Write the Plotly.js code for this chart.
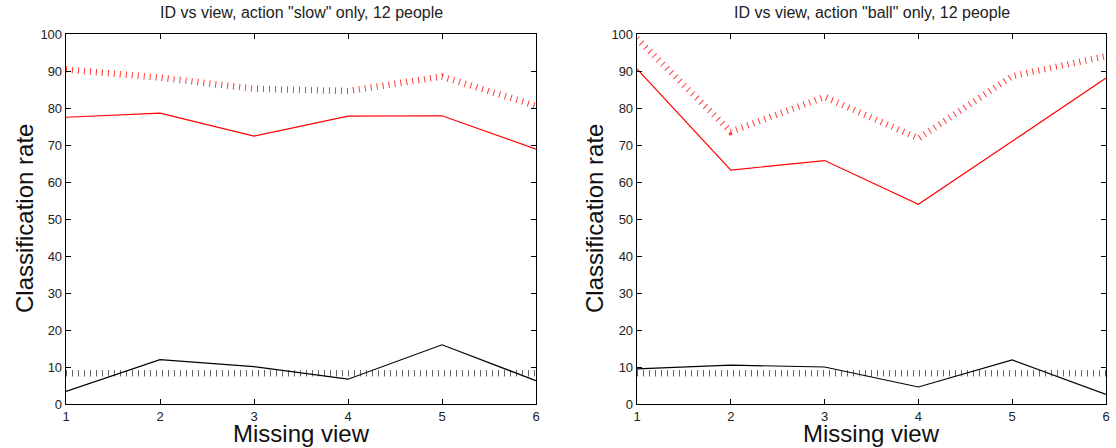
<!DOCTYPE html>
<html>
<head>
<meta charset="utf-8">
<script src="https://cdn.plot.ly/plotly-3.0.1.min.js"></script>
<style>html,body{margin:0;padding:0;background:#fff;}#chart{width:1116px;height:448px;}</style>
</head>
<body>
<div id="chart"></div>
<script>
const views = [1, 2, 3, 4, 5, 6];
const slowRedSolid = [77.5, 78.6, 72.4, 77.8, 77.9, 68.9];
const slowRedDotted = [90.4, 88.2, 85.2, 84.6, 88.5, 80.6];
const slowBlackSolid = [3.4, 12.0, 10.1, 6.7, 16.0, 6.3];
const slowBlackDotted = [8.33, 8.33, 8.33, 8.33, 8.33, 8.33];
const ballRedSolid = [90.6, 63.2, 65.8, 54.0, 71.0, 88.1];
const ballRedDotted = [98.8, 73.6, 83.0, 71.8, 88.6, 94.0];
const ballBlackSolid = [9.5, 10.5, 10.0, 4.6, 11.9, 2.6];
const ballBlackDotted = [8.33, 8.33, 8.33, 8.33, 8.33, 8.33];
const yTicks = [0, 10, 20, 30, 40, 50, 60, 70, 80, 90, 100];
const titles = ['ID vs view, action "slow" only, 12 people', 'ID vs view, action "ball" only, 12 people'];
const xTitle = 'Missing view';
const yTitle = 'Classification rate';

function solid(y, color, xa, ya) {
  return {x: views, y: y, xaxis: xa, yaxis: ya, mode: 'lines', line: {color: color, width: 1.2}, hoverinfo: 'skip'};
}
function dotted(y, color, xa, ya) {
  return {x: views, y: y, xaxis: xa, yaxis: ya, mode: 'lines', line: {color: color, width: 6.5, dash: '1px,5px'}, hoverinfo: 'skip'};
}
const data = [
  dotted(slowRedDotted, '#ff3a3a', 'x', 'y'),
  solid(slowRedSolid, '#ff0000', 'x', 'y'),
  dotted(slowBlackDotted, '#666666', 'x', 'y'),
  solid(slowBlackSolid, '#000000', 'x', 'y'),
  dotted(ballRedDotted, '#ff3a3a', 'x2', 'y2'),
  solid(ballRedSolid, '#ff0000', 'x2', 'y2'),
  dotted(ballBlackDotted, '#666666', 'x2', 'y2'),
  solid(ballBlackSolid, '#000000', 'x2', 'y2')
];
const tickFont = {family: 'Liberation Sans, Arial, sans-serif', size: 13, color: '#222'};
function xax(dom, anchor) {
  return {domain: dom, anchor: anchor, range: [1, 6], tickvals: views, ticktext: views.map(String), ticks: 'inside', ticklen: 5, tickcolor: '#000',
    showline: true, linecolor: '#000', linewidth: 1.3, mirror: 'ticks', showgrid: false, zeroline: false, tickfont: tickFont, fixedrange: true};
}
function yax(anchor) {
  return {domain: [0.0982, 0.9241], range: [0, 100], tickvals: yTicks, ticktext: yTicks.map(String), ticks: 'inside', ticklen: 5, tickcolor: '#000',
    showline: true, linecolor: '#000', linewidth: 1.3, mirror: 'ticks', showgrid: false, zeroline: false, tickfont: tickFont, anchor: anchor, fixedrange: true};
}
const titleFont = {family: 'Liberation Sans, Arial, sans-serif', size: 16, color: '#222'};
const bigFont = {family: 'Liberation Sans, Arial, sans-serif', size: 24, color: '#111'};
const centers = [301, 871.5];
const yTitleX = [24, 594];
const annotations = [];
for (let i = 0; i < 2; i++) {
  annotations.push({text: titles[i], x: centers[i] / 1116, y: 1 - 12 / 448, xref: 'paper', yref: 'paper', showarrow: false, font: titleFont, xanchor: 'center', yanchor: 'middle'});
  annotations.push({text: xTitle, x: centers[i] / 1116, y: 0, xref: 'paper', yref: 'paper', showarrow: false, font: bigFont, xanchor: 'center', yanchor: 'bottom', borderpad: 0});
  annotations.push({text: yTitle, x: yTitleX[i] / 1116, y: 1 - 219 / 448, xref: 'paper', yref: 'paper', showarrow: false, font: bigFont, textangle: -90, xanchor: 'center', yanchor: 'middle'});
}
const layout = {
  width: 1116, height: 448,
  margin: {l: 0, r: 0, t: 0, b: 0},
  paper_bgcolor: '#fff', plot_bgcolor: '#fff',
  showlegend: false,
  xaxis: xax([66 / 1116, 536 / 1116], 'y'),
  yaxis: yax('x'),
  xaxis2: xax([637 / 1116, 1106 / 1116], 'y2'),
  yaxis2: yax('x2'),
  annotations: annotations
};
Plotly.newPlot('chart', data, layout, {displayModeBar: false, staticPlot: true});
</script>
</body>
</html>
